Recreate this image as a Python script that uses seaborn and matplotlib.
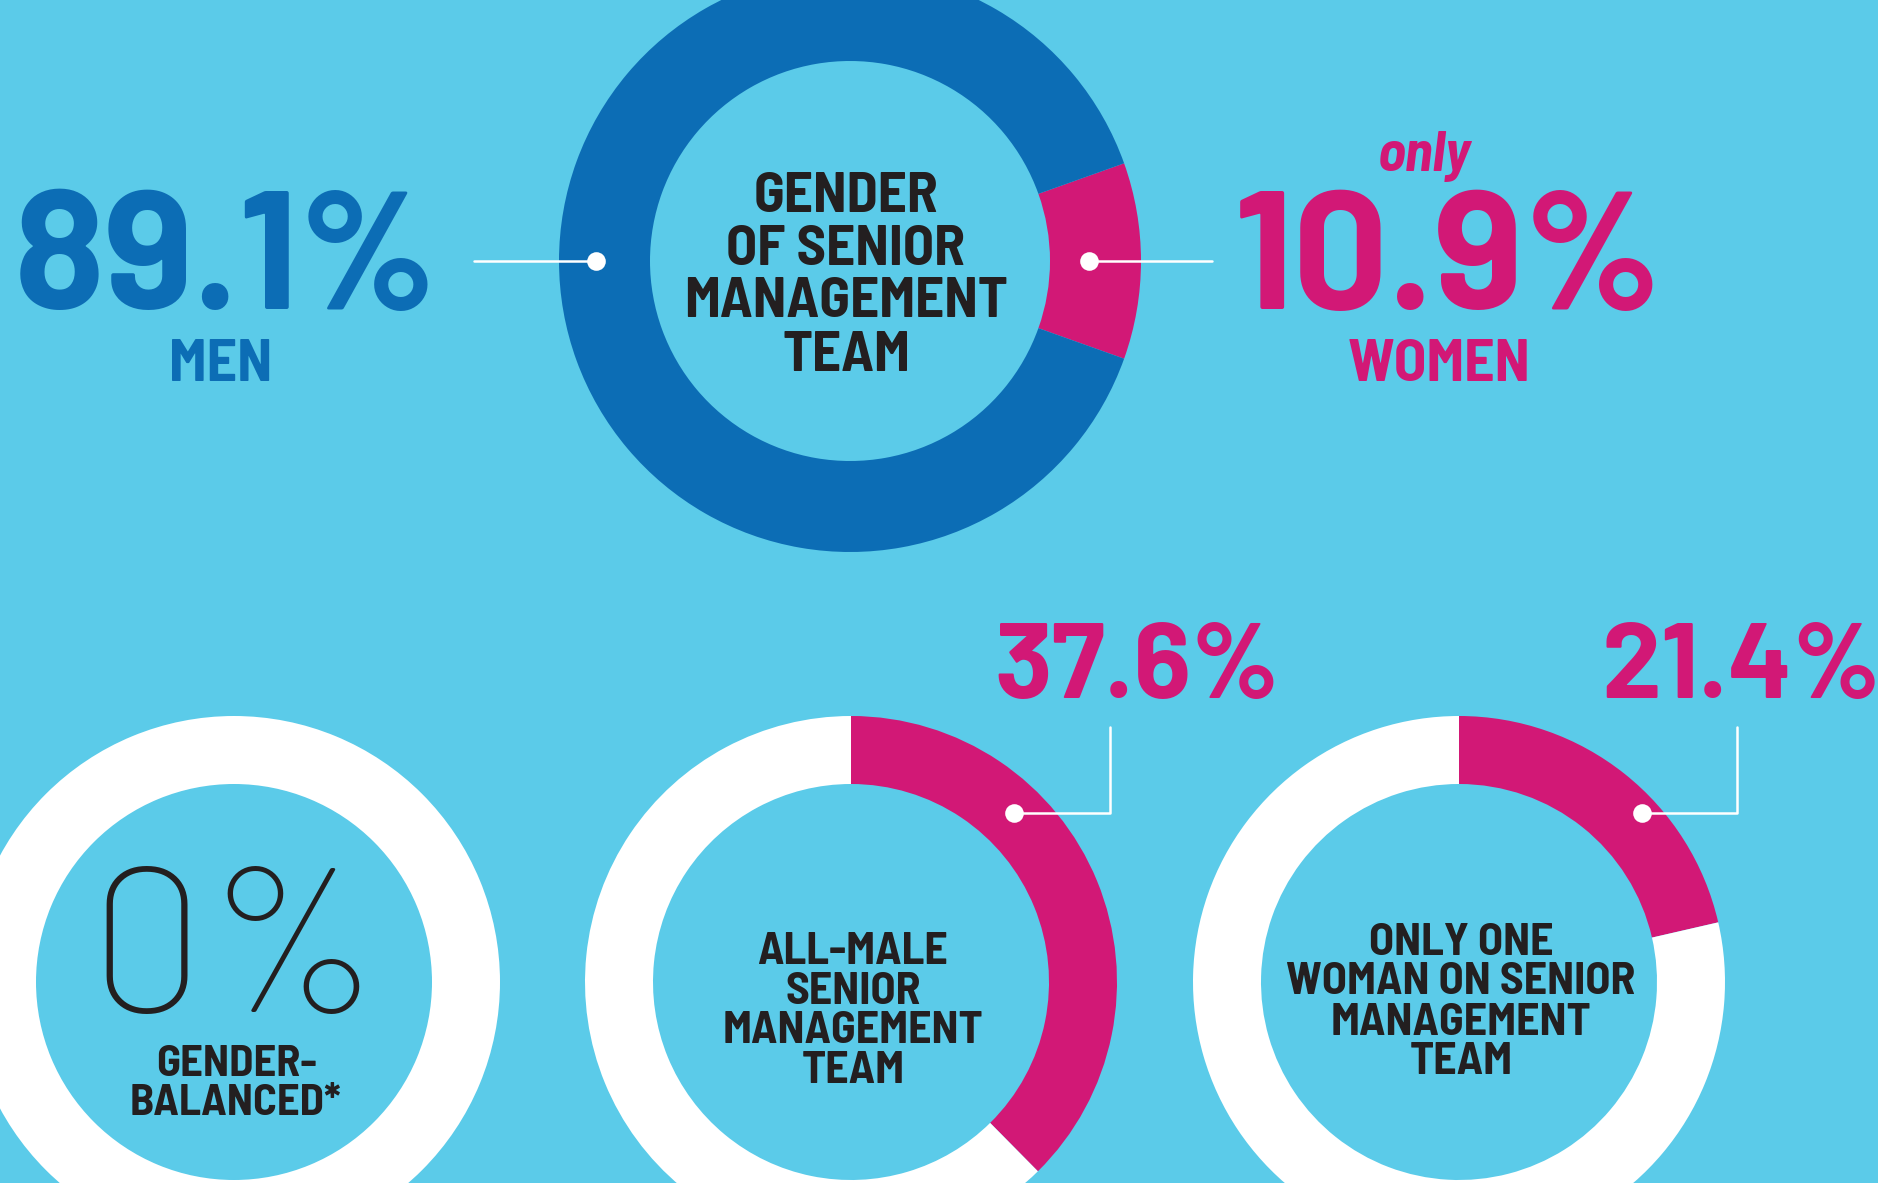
import numpy as np
import pandas as pd
import seaborn as sns
import matplotlib.pyplot as plt

### DATA ######
top_labels = ['WOMEN', 'MEN']
top_values = [10.9, 89.1]
top_title = ['GENDER', 'OF SENIOR', 'MANAGEMENT', 'TEAM']

bottom_titles = [['GENDER-', 'BALANCED*'],
                 ['ALL-MALE', 'SENIOR', 'MANAGEMENT', 'TEAM'],
                 ['ONLY ONE', 'WOMAN ON SENIOR', 'MANAGEMENT', 'TEAM']]
bottom_values = [0.0, 37.6, 21.4]
###############

W, H = 1878, 1183
bg = '#5bcbe9'
blue = '#0c6db5'
pink = '#d21876'
dark = '#231f20'
FONT = ['Barlow Semi Condensed', 'DejaVu Sans']
NUM_FONT = ['Barlow', 'DejaVu Sans']

sns.set_theme(style='white')
plt.rcParams['font.family'] = FONT

fig = plt.figure(figsize=(W / 100, H / 100), dpi=100, facecolor=bg)
ax = fig.add_axes([0, 0, 1, 1])
ax.set_facecolor(bg)

def Y(y):
    # pixel rows from the top -> data y
    return H - y

# top donut, women wedge centred on the right
cx, cy, R, ring = 850, Y(261), 291, 91
start = top_values[0] / 100 * 360 / 2
ax.pie(top_values, colors=[pink, blue], startangle=start, counterclock=False,
       radius=R, center=(cx, cy), frame=True,
       wedgeprops=dict(width=ring, linewidth=0))

for base, line in zip([212, 265, 317, 371], top_title):
    ax.text(cx - 4, Y(base), line, ha='center', va='baseline',
            fontsize=41, fontweight='bold', color=dark)

# leader lines
ax.plot([474, cx - 254], [cy, cy], color='white', lw=1.8)
ax.plot([cx + 239, 1212], [cy, cy], color='white', lw=1.8)
ax.scatter([cx - 254, cx + 239], [cy, cy], s=180, color='white', zorder=5, linewidths=0)

ax.text(226, Y(309), f'{top_values[1]}%', ha='center', va='baseline', family=NUM_FONT,
        fontsize=121, fontweight='bold', color=blue)
ax.text(221, Y(381), top_labels[1], ha='center', va='baseline',
        fontsize=43, fontweight='bold', color=blue)
ax.text(1448, Y(309), f'{top_values[0]}%', ha='center', va='baseline', family=NUM_FONT,
        fontsize=121, fontweight='bold', color=pink)
ax.text(1439, Y(381), top_labels[0], ha='center', va='baseline',
        fontsize=43, fontweight='bold', color=pink)
ax.text(1424, Y(171), 'only', ha='center', va='baseline',
        fontsize=41, fontweight='bold', fontstyle='italic', color=pink)

# bottom donuts
centers = [234, 851, 1459]
by, bR, bring = Y(982), 266, 68
bases = [[1076, 1115], [964, 1004, 1043, 1083], [955, 994, 1035, 1074]]
dot_ang = [None, 46, 42.7]
dot_r = [None, 235, 249]
lead_x = [None, 1110, 1737]
num_x = [None, 1137, 1741]
for k, (x0, v) in enumerate(zip(centers, bottom_values)):
    ax.pie([v, 100 - v], colors=[pink, 'white'], startangle=90, counterclock=False,
           radius=bR, center=(x0, by), frame=True,
           wedgeprops=dict(width=bring, linewidth=0))
    size = 32 if k == 0 else 33
    for base, line in zip(bases[k], bottom_titles[k]):
        ax.text(x0 + 2, Y(base), line, ha='center', va='baseline',
                fontsize=size, fontweight='bold', color=dark)
    if k == 0:
        ax.text(x0 + 2, Y(1012), f'{v:.0f}%', ha='center', va='baseline', family=NUM_FONT,
                fontsize=149, fontweight='light', color=dark)
    else:
        a = np.deg2rad(dot_ang[k])
        dx, dy = x0 + dot_r[k] * np.cos(a), by + dot_r[k] * np.sin(a)
        ax.plot([dx, lead_x[k], lead_x[k]], [dy, dy, Y(727)], color='white', lw=1.8)
        ax.scatter([dx], [dy], s=180, color='white', zorder=5, linewidths=0)
        ax.text(num_x[k], Y(698), f'{v}%', ha='center', va='baseline', family=NUM_FONT,
                fontsize=77, fontweight='bold', color=pink)

ax.set_xlim(0, W)
ax.set_ylim(0, H)
ax.set_aspect('equal')
ax.axis('off')
fig.savefig('out.png', dpi=100, facecolor=bg)
